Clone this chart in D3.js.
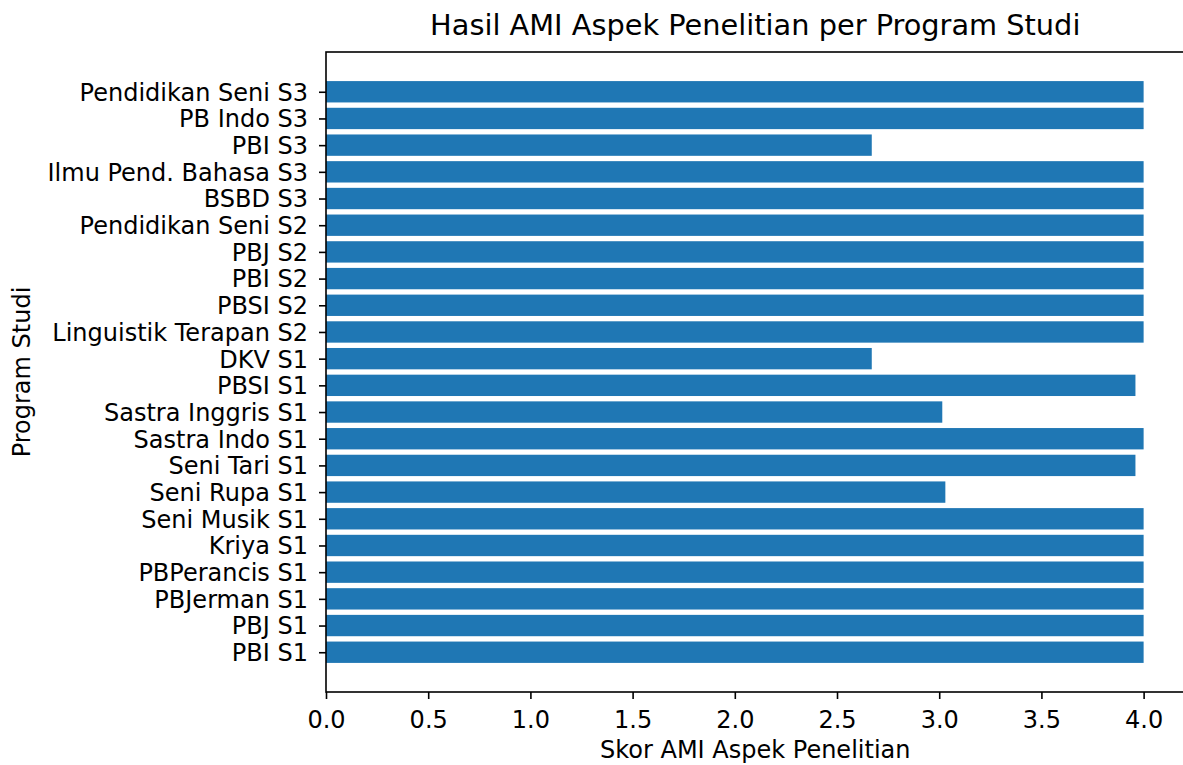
<!DOCTYPE html>
<html>
<head>
<meta charset="utf-8">
<title>Hasil AMI Aspek Penelitian per Program Studi</title>
<script src="https://d3js.org/d3.v7.min.js"></script>
<style>
	body { margin: 0; background: #fff; font-family: "DejaVu Sans", sans-serif; }
	.axis text { font-family: "DejaVu Sans", sans-serif; font-size: 24px; fill: #000; }
	.axis path, .axis line { stroke: #000; stroke-width: 1.6px; }
</style>
</head>
<body>
<script>
	var programs = [
		"PBI S1", "PBJ S1", "PBJerman S1", "PBPerancis S1", "Kriya S1", "Seni Musik S1",
		"Seni Rupa S1", "Seni Tari S1", "Sastra Indo S1", "Sastra Inggris S1", "PBSI S1", "DKV S1",
		"Linguistik Terapan S2", "PBSI S2", "PBI S2", "PBJ S2", "Pendidikan Seni S2",
		"BSBD S3", "Ilmu Pend. Bahasa S3", "PBI S3", "PB Indo S3", "Pendidikan Seni S3"
	];
	var scores = [
		4, 4, 4, 4, 4, 4,
		3.03, 3.96, 4, 3.015, 3.96, 2.67,
		4, 4, 4, 4, 4,
		4, 4, 2.67, 4, 4
	];
	var xTicks = [0, 0.5, 1, 1.5, 2, 2.5, 3, 3.5, 4];

	var width = 1183, height = 765;
	var margin = { top: 52, left: 326 };
	var plotW = 858.5, plotH = 640;

	var svg = d3.select("body").append("svg")
		.attr("width", width)
		.attr("height", height);

	var g = svg.append("g")
		.attr("transform", "translate(" + margin.left + "," + margin.top + ")");

	var n = programs.length;
	var x = d3.scaleLinear().domain([0, 4.2]).range([0, plotW]);
	// matplotlib style: bars centered on integer positions, 5% margins
	var lo = -0.4 - 0.05 * (n - 1 + 0.8), hi = n - 1 + 0.4 + 0.05 * (n - 1 + 0.8);
	var y = d3.scaleLinear().domain([lo, hi]).range([plotH, 0]);
	var barH = y(0) - y(0.8);

	g.selectAll("rect.bar")
		.data(programs)
		.enter().append("rect")
		.attr("class", "bar")
		.attr("x", x(0))
		.attr("y", function(d, i) { return y(i + 0.4); })
		.attr("width", function(d, i) { return x(scores[i]) - x(0); })
		.attr("height", barH)
		.attr("fill", "#1f77b4");

	// x axis
	var xAxis = g.append("g")
		.attr("class", "axis")
		.attr("transform", "translate(0," + plotH + ")")
		.call(d3.axisBottom(x).tickValues(xTicks).tickFormat(d3.format(".1f")).tickSize(7).tickPadding(12).tickSizeOuter(0));
	xAxis.select(".domain").remove();

	// y axis
	var yAxis = g.append("g")
		.attr("class", "axis")
		.call(d3.axisLeft(y).tickValues(d3.range(n)).tickFormat(function(i) { return programs[i]; }).tickSize(7).tickPadding(11).tickSizeOuter(0));
	yAxis.select(".domain").remove();
	yAxis.selectAll("text").attr("dy", "0.35em");

	// spines
	g.append("rect")
		.attr("x", 0).attr("y", 0)
		.attr("width", plotW).attr("height", plotH)
		.attr("fill", "none")
		.attr("stroke", "#000")
		.attr("stroke-width", 1.6);

	svg.append("text")
		.attr("x", margin.left + plotW / 2)
		.attr("y", 35)
		.attr("text-anchor", "middle")
		.style("font-size", "28.8px")
		.text("Hasil AMI Aspek Penelitian per Program Studi");

	svg.append("text")
		.attr("x", margin.left + plotW / 2)
		.attr("y", 758)
		.attr("text-anchor", "middle")
		.style("font-size", "24px")
		.text("Skor AMI Aspek Penelitian");

	svg.append("text")
		.attr("transform", "translate(30," + (margin.top + plotH / 2) + ") rotate(-90)")
		.attr("text-anchor", "middle")
		.style("font-size", "24px")
		.text("Program Studi");
</script>
</body>
</html>
